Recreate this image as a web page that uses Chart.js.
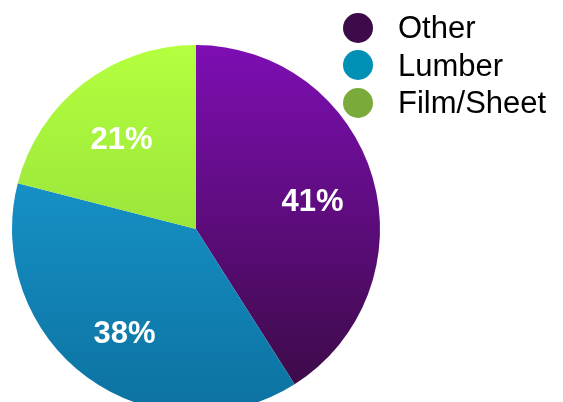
<!DOCTYPE html>
<html>
<head>
<meta charset="utf-8">
<script src="https://cdn.jsdelivr.net/npm/chart.js@4/dist/chart.umd.min.js"></script>
<style>
  html, body { margin: 0; padding: 0; background: #fff; overflow: hidden; }
  #wrap { position: relative; width: 563px; height: 470px; }
  #legend { position: absolute; left: 343px; top: 9px; font-family: "Liberation Sans", Arial, sans-serif; font-size: 31px; color: #000; }
  #legend div { height: 37.5px; line-height: 37.5px; white-space: nowrap; }
  #legend span { display: inline-block; width: 30px; height: 30px; border-radius: 50%; vertical-align: middle; margin-right: 25px; margin-top: -4px; }
</style>
</head>
<body>
<div id="wrap">
  <canvas id="pie" width="563" height="470"></canvas>
  <div id="legend"></div>
</div>
<script>
const categories = ['Other', 'Lumber', 'Film/Sheet'];
const shares = [41, 38, 21];
const legendColors = ['#3d0a4a', '#008fb5', '#7aab3a'];
// top / bottom colours of each slice's gradient
const gradTop = ['#7e0eb3', '#1ca2dc', '#b4ff3e'];
const gradBottom = ['#380a40', '#0c72a0', '#82cc38'];

const legendBox = document.querySelector('#legend');
categories.forEach((c, i) => {
    const row = document.createElement('div');
    row.innerHTML = '<span style="background:' + legendColors[i] + '"></span>' + c;
    legendBox.appendChild(row);
});

function sliceColor(ctx) {
    const chart = ctx.chart;
    const area = chart.chartArea;
    if (!area) return gradTop[ctx.dataIndex];
    const g = chart.ctx.createLinearGradient(0, area.top, 0, area.bottom);
    g.addColorStop(0, gradTop[ctx.dataIndex]);
    g.addColorStop(1, gradBottom[ctx.dataIndex]);
    return g;
}

// percent labels inside the slices
const pctLabels = {
    id: 'pctLabels',
    afterDatasetsDraw(chart) {
        const c = chart.ctx;
        const meta = chart.getDatasetMeta(0);
        c.save();
        c.fillStyle = '#fff';
        c.font = 'bold 31px "Liberation Sans", Arial, sans-serif';
        c.textAlign = 'center';
        c.textBaseline = 'middle';
        meta.data.forEach((arc, i) => {
            const mid = (arc.startAngle + arc.endAngle) / 2;
            const r = arc.outerRadius * 0.66;
            // labels sit a little low in the original
            c.fillText(shares[i] + '%', arc.x + Math.cos(mid) * r, arc.y + Math.sin(mid) * r + 7);
        });
        c.restore();
    }
};

new Chart(document.querySelector('#pie').getContext('2d'), {
    type: 'pie',
    data: {
        labels: categories,
        datasets: [{
            data: shares,
            backgroundColor: sliceColor,
            borderWidth: 0
        }]
    },
    options: {
        responsive: false,
        animation: false,
        layout: { padding: { left: 12, top: 45, right: 183, bottom: 57 } },
        plugins: {
            legend: { display: false },
            tooltip: { enabled: false }
        }
    },
    plugins: [pctLabels]
});
</script>
</body>
</html>
